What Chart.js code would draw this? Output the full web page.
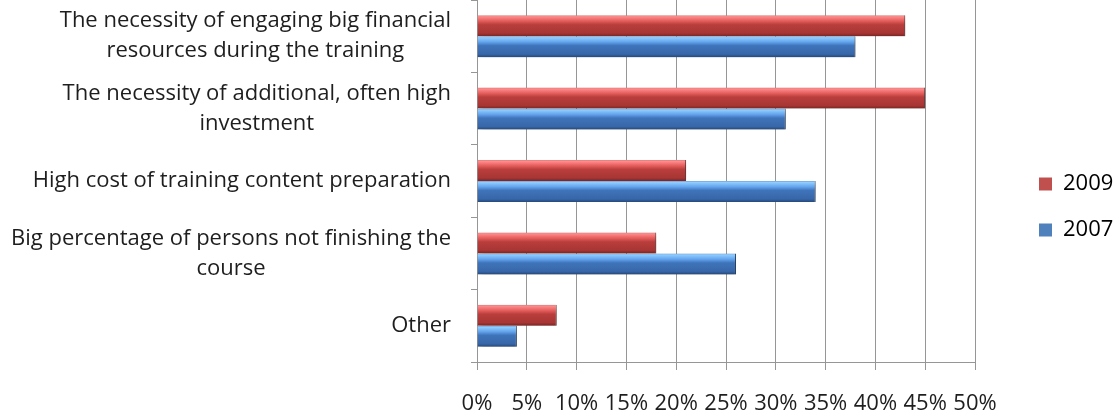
<!DOCTYPE html>
<html>
<head>
<meta charset="utf-8">
<script src="https://cdn.jsdelivr.net/npm/chart.js@4.4.1/dist/chart.umd.min.js"></script>
<style>
  html, body { margin: 0; padding: 0; background: #ffffff; }
  #wrap { width: 1117px; height: 414px; position: relative; }
</style>
</head>
<body>
<div id="wrap"><canvas id="chart"></canvas></div>
<script>
// Reasons named as obstacles to e-learning, share of respondents (%)
const categories = [
  ["The necessity of engaging big financial", "resources during the training"],
  ["The necessity of additional, often high", "investment"],
  ["High cost of training content preparation"],
  ["Big percentage of persons not finishing the", "course"],
  ["Other"]
];
const seriesNames = ["2009", "2007"];
const values2009 = [43, 45, 21, 18, 8];
const values2007 = [38, 31, 34, 26, 4];
const axisMax = 50;
const axisStep = 5;

const FONT = "'Open Sans', 'Noto Sans', sans-serif";
const TEXT = '#1e1e1e';
const GRID = '#969696';
const CAT_PCT = 0.58;

// bevel-like vertical shading for each bar colour
const redStops = [[0, '#d88080'], [0.07, '#ff8a8a'], [0.28, '#e25c5a'], [0.45, '#b93e3c'], [0.85, '#a73634'], [1, '#7a2523']];
const blueStops = [[0, '#6fa4dc'], [0.07, '#90ccff'], [0.28, '#62a3ec'], [0.45, '#3f74ba'], [0.85, '#3867a9'], [1, '#25497a']];

function barFill(stops) {
  return (c) => {
    const chart = c.chart;
    const y = chart.scales.y;
    if (c.type !== 'data' || !y || !isFinite(y.top)) return stops[3][1];
    const band = (y.bottom - y.top) / chart.data.labels.length;
    const thick = band * CAT_PCT / 2;
    const center = y.getPixelForValue(c.dataIndex);
    const top = c.datasetIndex === 0 ? center - thick : center;
    const g = chart.ctx.createLinearGradient(0, top, 0, top + thick);
    stops.forEach(([o, col]) => g.addColorStop(o, col));
    return g;
  };
}

// soft drop shadow under the bars
const barShadow = {
  id: 'barShadow',
  beforeDatasetsDraw(chart) {
    const ctx = chart.ctx;
    ctx.save();
    ctx.shadowColor = 'rgba(0,0,0,0.35)';
    ctx.shadowBlur = 6;
    ctx.shadowOffsetX = 2;
    ctx.shadowOffsetY = 3;
  },
  afterDatasetsDraw(chart) {
    chart.ctx.restore();
  }
};

// category labels: block right-aligned, lines centred within the block
const categoryLabels = {
  id: 'categoryLabels',
  afterDraw(chart) {
    const s = chart.scales.y;
    const ctx = chart.ctx;
    ctx.save();
    ctx.font = '22px ' + FONT;
    ctx.fillStyle = TEXT;
    ctx.textAlign = 'center';
    ctx.textBaseline = 'middle';
    const right = s.right - 26;
    const lineH = 30;
    chart.data.labels.forEach((lab, i) => {
      const lines = [].concat(lab);
      const w = Math.max(...lines.map(l => ctx.measureText(l).width));
      const cx = right - w / 2;
      const cy = s.getPixelForTick(i);
      lines.forEach((l, j) => ctx.fillText(l, cx, cy + (j - (lines.length - 1) / 2) * lineH));
    });
    ctx.restore();
  }
};

new Chart(document.getElementById('chart'), {
  type: 'bar',
  data: {
    labels: categories,
    datasets: [
      { label: seriesNames[0], data: values2009, backgroundColor: barFill(redStops), borderColor: '#6e2120', legendColor: '#c0504d' },
      { label: seriesNames[1], data: values2007, backgroundColor: barFill(blueStops), borderColor: '#23426e', legendColor: '#4f81bd' }
    ]
  },
  options: {
    indexAxis: 'y',
    responsive: true,
    maintainAspectRatio: false,
    animation: false,
    datasets: { bar: { categoryPercentage: CAT_PCT, barPercentage: 1, borderWidth: { top: 0, bottom: 0, left: 0, right: 1 }, borderSkipped: 'start' } },
    layout: { padding: { top: 0, right: 0, bottom: 0, left: 0 } },
    scales: {
      x: {
        min: 0, max: axisMax,
        ticks: {
          stepSize: axisStep,
          callback: v => v + '%',
          font: { family: FONT, size: 22 },
          color: TEXT,
          padding: 21,
          maxRotation: 0
        },
        grid: { color: GRID, lineWidth: 1, tickLength: 8, drawTicks: true },
        border: { color: GRID, width: 1 },
        afterFit: s => { s.height = 52; }
      },
      y: {
        offset: true,
        ticks: { display: false },
        grid: { offset: true, drawOnChartArea: false, drawTicks: true, tickLength: 6, color: GRID },
        border: { color: GRID, width: 1 },
        afterFit: s => { s.width = 477; }
      },
      gap: {
        type: 'linear',
        position: 'right',
        display: true,
        grid: { display: false },
        ticks: { display: false },
        border: { display: false },
        afterFit: s => { s.width = 40; }
      }
    },
    plugins: {
      legend: {
        position: 'right',
        maxWidth: 102,
        labels: {
          boxWidth: 13,
          boxHeight: 13,
          padding: 24,
          color: TEXT,
          font: { family: FONT, size: 22 },
          generateLabels: chart => chart.data.datasets.map((ds, i) => ({
            text: ds.label,
            fillStyle: ds.legendColor,
            strokeStyle: ds.legendColor,
            lineWidth: 0,
            datasetIndex: i,
            hidden: false
          }))
        }
      },
      tooltip: { enabled: false }
    }
  },
  plugins: [barShadow, categoryLabels]
});
</script>
</body>
</html>
